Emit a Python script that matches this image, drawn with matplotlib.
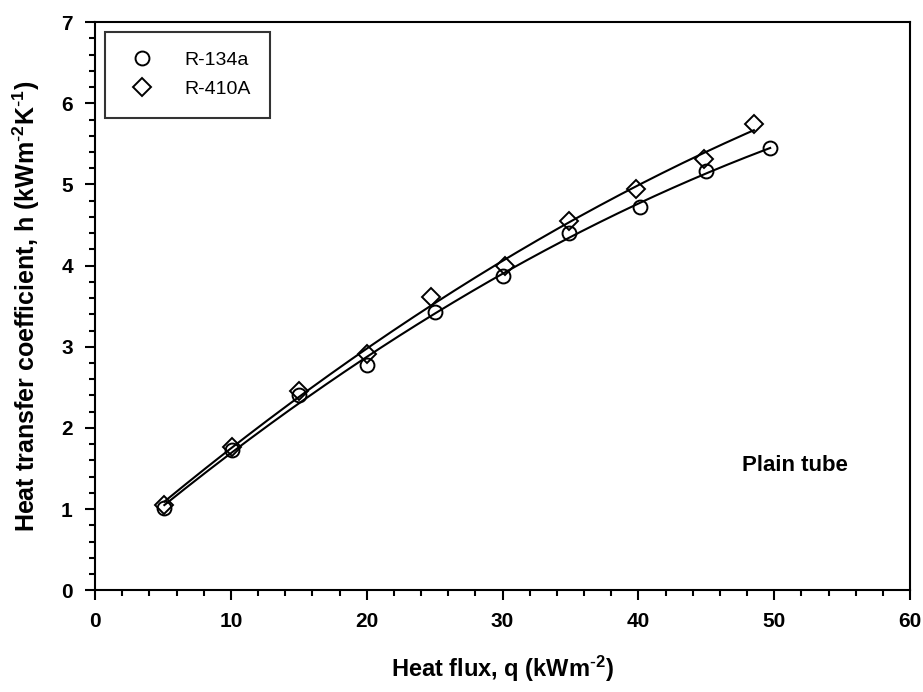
import numpy as np
import matplotlib
matplotlib.use('Agg')
import matplotlib.pyplot as plt
from matplotlib.ticker import MultipleLocator

plt.rcParams['font.family'] = ['Liberation Sans', 'DejaVu Sans']
plt.rcParams['mathtext.default'] = 'regular'

# data
q_134a = [5.1, 10.1, 15.0, 20.0, 25.0, 30.0, 34.9, 40.1, 45.0, 49.7]
h_134a = [1.01, 1.73, 2.40, 2.77, 3.43, 3.87, 4.40, 4.72, 5.16, 5.45]
q_410a = [5.1, 10.1, 15.0, 20.0, 24.7, 30.2, 34.9, 39.8, 44.8, 48.5]
h_410a = [1.05, 1.77, 2.46, 2.91, 3.61, 4.00, 4.55, 4.95, 5.31, 5.75]


def quad_fit(q, h):
    # 2nd order polynomial regression through the points
    c = np.polyfit(q, h, 2)
    qq = np.linspace(min(q), max(q), 200)
    return qq, np.polyval(c, qq)


fig = plt.figure(figsize=(9.23, 6.92), dpi=100)
ax = fig.add_axes([0.103, 0.147, 0.883, 0.821])

qq, hh = quad_fit(q_134a, h_134a)
ax.plot(qq, hh, color='black', lw=1.5)
qq, hh = quad_fit(q_410a, h_410a)
ax.plot(qq, hh, color='black', lw=1.5)

ax.plot(q_134a, h_134a, 'o', ms=10, mfc='none', mec='black', mew=1.4, label='R-134a')
ax.plot(q_410a, h_410a, 'D', ms=9, mfc='none', mec='black', mew=1.4, label='R-410A')

ax.set_xlim(0, 60)
ax.set_ylim(0, 7)
ax.xaxis.set_major_locator(MultipleLocator(10))
ax.xaxis.set_minor_locator(MultipleLocator(2))
ax.yaxis.set_major_locator(MultipleLocator(1))
ax.yaxis.set_minor_locator(MultipleLocator(0.2))
ax.tick_params(which='major', direction='out', length=7, width=1.5, labelsize=15, pad=9)
ax.tick_params(which='minor', direction='out', length=4, width=1.5)
for lab in ax.get_xticklabels() + ax.get_yticklabels():
    lab.set_fontweight('heavy')
for s in ax.spines.values():
    s.set_linewidth(1.5)

ax.set_xlabel(r'Heat flux, q (kWm$^{\text{-}2}$)', fontsize=17, fontweight='bold', labelpad=16)
ax.set_ylabel(r'Heat transfer coefficient, h (kWm$^{\text{-}2}$K$^{\text{-}1}$)',
              fontsize=18, fontweight='bold', labelpad=14)

leg = ax.legend(loc='upper left', fontsize=14, frameon=True, fancybox=False,
                edgecolor='black', borderpad=1.0, handletextpad=1.3, labelspacing=0.6,
                borderaxespad=0.5, handlelength=1.8)
leg.get_frame().set_linewidth(1.5)

ax.text(0.859, 0.22, 'Plain tube', transform=ax.transAxes, fontsize=16,
        fontweight='bold', ha='center', va='center')

fig.savefig('out.png', dpi=100)
